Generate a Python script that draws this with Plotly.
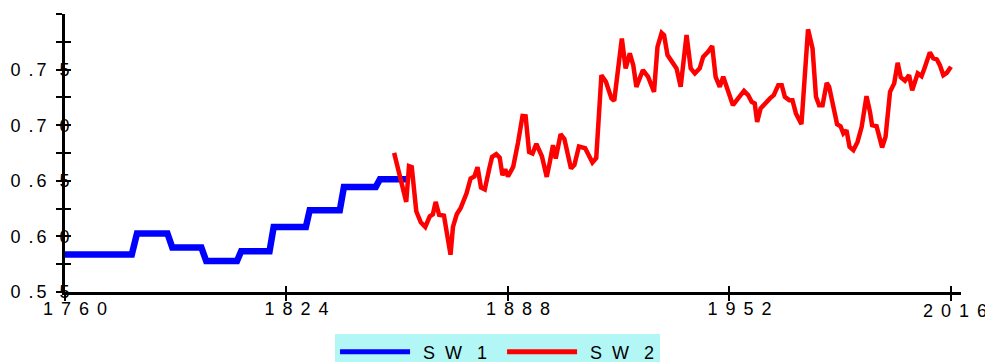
import plotly.graph_objects as go

# ---- data ----
sw1_years = [1760, 1779.3, 1780.8, 1789.6, 1791.0, 1799.4, 1800.8, 1809.7, 1810.9,
             1819.1, 1820.3, 1829.6, 1830.7, 1839.4, 1840.6, 1849.8, 1851.0, 1858.7]
sw1_values = [0.5837, 0.5837, 0.6026, 0.6026, 0.5900, 0.5900, 0.5779, 0.5779, 0.5866,
              0.5866, 0.6085, 0.6085, 0.6235, 0.6235, 0.6445, 0.6445, 0.6514, 0.6514]

sw2_years = [1855.1, 1858.6, 1859.4, 1860.2, 1861.5, 1862.8, 1864.1, 1865.4, 1866.3, 1867.1,
             1868.1, 1869.5, 1871.4, 1872.1, 1873.2, 1874.3, 1876.0, 1877.2, 1878.3, 1879.2,
             1880.2, 1881.3, 1882.6, 1883.4, 1884.6, 1885.6, 1886.4, 1887.2, 1888.0, 1889.5,
             1890.9, 1892.2, 1893.1, 1894.1, 1895.1, 1896.2, 1897.8, 1899.2, 1900.1, 1901.0,
             1901.8, 1903.2, 1904.3, 1905.4, 1906.2, 1907.2, 1908.5, 1910.3, 1912.4, 1913.5,
             1915.0, 1916.3, 1917.9, 1918.7, 1920.9, 1922.0, 1923.2, 1924.2, 1925.1, 1927.0,
             1928.5, 1930.2, 1931.2, 1932.4, 1933.1, 1934.1, 1935.4, 1936.7, 1937.9, 1939.6,
             1940.8, 1942.0, 1943.4, 1944.4, 1945.8, 1947.0, 1948.0, 1949.2, 1950.2, 1951.2,
             1952.1, 1953.0, 1954.5, 1956.2, 1957.4, 1958.4, 1959.3, 1960.0, 1961.0, 1962.5,
             1963.7, 1964.8, 1966.1, 1967.1, 1968.0, 1969.3, 1970.2, 1971.2, 1972.8, 1974.7,
             1976.0, 1977.0, 1977.9, 1978.9, 1980.1, 1980.8, 1982.2, 1983.1, 1984.1, 1984.9,
             1985.8, 1986.7, 1987.8, 1989.0, 1990.2, 1991.6, 1992.6, 1993.2, 1994.5, 1996.1,
             1997.1, 1998.4, 1999.6, 2000.6, 2001.5, 2002.7, 2003.9, 2004.8, 2006.4, 2007.5,
             2008.5, 2009.9, 2010.9, 2011.9, 2012.8, 2013.8, 2014.8, 2016.0]
sw2_values = [0.6751, 0.6310, 0.6631, 0.6622, 0.6226, 0.6127, 0.6085, 0.6181, 0.6199, 0.6310,
              0.6195, 0.6186, 0.5835, 0.6085, 0.6199, 0.6253, 0.6386, 0.6521, 0.6539, 0.6622,
              0.6440, 0.6422, 0.6611, 0.6715, 0.6739, 0.6708, 0.6550, 0.6604, 0.6539, 0.6625,
              0.6843, 0.7084, 0.7081, 0.6760, 0.6746, 0.6832, 0.6721, 0.6535, 0.6670, 0.6820,
              0.6701, 0.6919, 0.6876, 0.6721, 0.6611, 0.6643, 0.6809, 0.6793, 0.6665, 0.6705,
              0.7450, 0.7390, 0.7241, 0.7221, 0.7779, 0.7511, 0.7646, 0.7540, 0.7345, 0.7496,
              0.7435, 0.7300, 0.7705, 0.7831, 0.7811, 0.7631, 0.7570, 0.7511, 0.7345, 0.7811,
              0.7511, 0.7466, 0.7511, 0.7615, 0.7660, 0.7712, 0.7435, 0.7345, 0.7435, 0.7345,
              0.7252, 0.7180, 0.7241, 0.7309, 0.7271, 0.7210, 0.7196, 0.7030, 0.7151, 0.7210,
              0.7241, 0.7270, 0.7360, 0.7360, 0.7255, 0.7225, 0.7225, 0.7106, 0.7009, 0.7862,
              0.7691, 0.7255, 0.7180, 0.7180, 0.7381, 0.7345, 0.7151, 0.7009, 0.6991, 0.6926,
              0.6955, 0.6805, 0.6775, 0.6850, 0.6985, 0.7261, 0.7120, 0.7000, 0.6991, 0.6800,
              0.6895, 0.7300, 0.7376, 0.7561, 0.7430, 0.7399, 0.7450, 0.7315, 0.7466, 0.7441,
              0.7525, 0.7655, 0.7601, 0.7592, 0.7540, 0.7450, 0.7471, 0.7525]

x_tickvals = [1760, 1824, 1888, 1952, 2016]
x_ticklabels = ["1760", "1824", "1888", "1952", "2016"]
y_tickvals = [0.55, 0.575, 0.60, 0.625, 0.65, 0.675, 0.70, 0.725, 0.75, 0.775, 0.80]
y_labels = {0.55: "55", 0.60: "60", 0.65: "65", 0.70: "70", 0.75: "75"}
series_names = ["SW1", "SW2"]

NB = "\u00a0"      # no-break space (0.278em)
SIX = "\u2006"     # six-per-em space


def spaced_name(s):
    # letter-spaced legend text, e.g. "S  W   1"
    return NB + SIX + s[0] + NB * 2 + s[1] + NB * 3 + s[2]


def spaced_year(s):
    return (NB + SIX).join(list(s))


def ylab(v):
    key = round(v, 3)
    for k, s in y_labels.items():
        if abs(k - key) < 1e-9:
            return "0" + NB + SIX + "." + SIX + s[0] + NB * 2 + SIX + s[1]
    return ""


n_x = len(x_ticklabels)
# main axis labels all but the last year; the overlay axis labels the last one
# (kept inside the page, as in the reference)
x_ticktext_main = [spaced_year(s) if i < n_x - 1 else "" for i, s in enumerate(x_ticklabels)]
x_ticktext_last = [spaced_year(s) if i == n_x - 1 else "" for i, s in enumerate(x_ticklabels)]
y_ticktext = [ylab(v) for v in y_tickvals]
legend_names = [spaced_name(series_names[0]) + NB * 2, spaced_name(series_names[1])]

FONT = "Arial, Liberation Sans, sans-serif"
XR = [1760, 2018.9]
YR = [0.55, 0.80]

fig = go.Figure()
fig.add_trace(go.Scatter(x=sw1_years, y=sw1_values, mode="lines", name=legend_names[0],
                         line=dict(color="#0000ff", width=6.5)))
fig.add_trace(go.Scatter(x=sw2_years, y=sw2_values, mode="lines", name=legend_names[1],
                         line=dict(color="#ff0000", width=4.5)))
# invisible trace for the overlay axes that draw the inner half of the ticks
fig.add_trace(go.Scatter(x=[None], y=[None], xaxis="x2", yaxis="y2", showlegend=False,
                         hoverinfo="skip", mode="lines"))

common_x = dict(range=XR, tickmode="array", tickvals=x_tickvals, showgrid=False,
                zeroline=False, ticklen=6, tickwidth=2, tickcolor="black", automargin=False,
                ticklabeloverflow="allow",
                tickfont=dict(family=FONT, size=18, color="black"))
common_y = dict(range=YR, tickmode="array", tickvals=y_tickvals, showgrid=False,
                zeroline=False, ticklen=6, tickwidth=2, tickcolor="black", automargin=False)

# page body has an 8px margin, so the figure is 8px smaller than the window
fig.update_layout(
    width=985, height=354,
    margin=dict(l=57, r=32, t=6, b=70, pad=0),
    paper_bgcolor="white", plot_bgcolor="white",
    font=dict(family=FONT, size=18, color="black"),
    showlegend=True,
    legend=dict(orientation="h", xref="container", x=0.497, xanchor="center",
                yref="container", y=0.028, yanchor="middle",
                bgcolor="#b3f6f6", borderwidth=0, itemwidth=70,
                font=dict(family=FONT, size=18, color="black"),
                tracegroupgap=0, itemsizing="constant"),
    xaxis=dict(**common_x, ticktext=x_ticktext_main, ticks="outside", showline=True,
               linecolor="black", linewidth=3, ticklabelstandoff=-8, ticklabelshift=10),
    yaxis=dict(**common_y, ticktext=y_ticktext, ticks="outside", showline=True,
               linecolor="black", linewidth=3, ticklabelstandoff=-17,
               ticklabeloverflow="allow",
               tickfont=dict(family=FONT, size=18, color="black")),
    xaxis2=dict(**common_x, ticktext=x_ticktext_last, overlaying="x", anchor="y2",
                side="bottom", ticks="inside", showticklabels=True, showline=False,
                ticklabelstandoff=6, ticklabelshift=4),
    yaxis2=dict(**common_y, overlaying="y", anchor="x2", side="left", ticks="inside",
                showticklabels=False, showline=False),
)

fig.write_html("out.html")
